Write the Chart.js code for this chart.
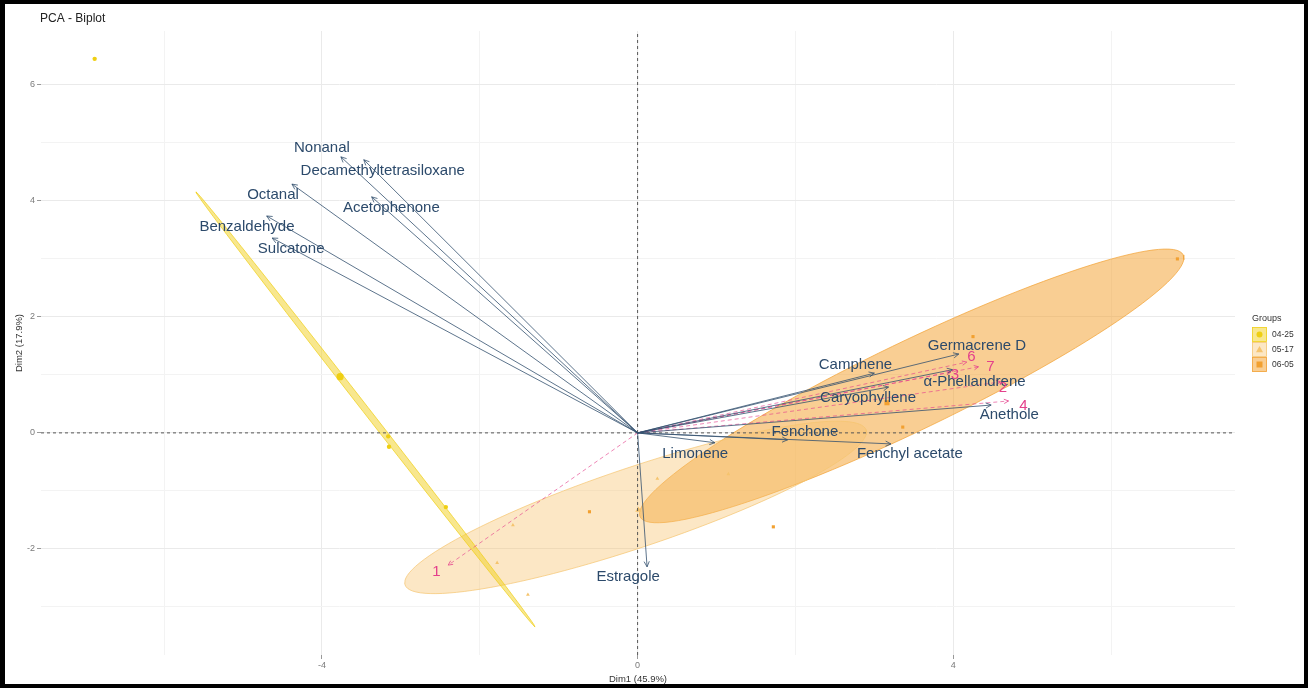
<!DOCTYPE html>
<html>
<head>
<meta charset="utf-8">
<script src="https://cdn.jsdelivr.net/npm/chart.js@4.4.1/dist/chart.umd.min.js"></script>
<style>
  body { margin: 0; background: #fff; }
  #wrap { position: relative; width: 1312px; height: 688px; }
  #c { display: block; }
  #frame { position: absolute; left: 0; top: 0; width: 1308px; height: 688px; box-sizing: border-box;
           border: 4px solid #000; border-left-width: 5px; pointer-events: none; }
</style>
</head>
<body>
<div id="wrap">
  <canvas id="c" width="1312" height="688"></canvas>
  <div id="frame"></div>
</div>
<script>
// axis ticks / limits
const xGrid = [-6, -4, -2, 0, 2, 4, 6];
const xTickLabels = [-4, 0, 4];
const yGrid = [-3, -2, -1, 0, 1, 2, 3, 4, 5, 6];
const yTickLabels = [-2, 0, 2, 4, 6];
const xLimits = [-7.56, 7.57];
const yLimits = [-3.83, 6.93];

// active variables (arrows)
const varNames = ['Nonanal', 'Decamethyltetrasiloxane', 'Octanal', 'Acetophenone', 'Benzaldehyde', 'Sulcatone',
  'Germacrene D', 'Camphene', 'α-Phellandrene', 'Caryophyllene', 'Anethole', 'Fenchone', 'Fenchyl acetate',
  'Limonene', 'Estragole'];
const varX = [-3.76, -3.47, -4.38, -3.37, -4.70, -4.63, 4.07, 3.00, 3.99, 3.18, 4.48, 1.90, 3.21, 0.98, 0.12];
const varY = [4.76, 4.71, 4.29, 4.07, 3.74, 3.36, 1.36, 1.03, 1.09, 0.79, 0.48, -0.12, -0.19, -0.17, -2.31];
const varLabelX = [-4.00, -3.23, -4.62, -3.12, -4.95, -4.39, 4.30, 2.76, 4.27, 2.92, 4.71, 2.12, 3.45, 0.73, -0.12];
const varLabelY = [4.91, 4.52, 4.10, 3.88, 3.56, 3.17, 1.50, 1.17, 0.88, 0.60, 0.31, 0.02, -0.36, -0.37, -2.49];

// supplementary variables (dashed pink arrows)
const supNames = ['1', '2', '3', '4', '6', '7'];
const supX = [-2.40, 4.60, 3.97, 4.70, 4.17, 4.32];
const supY = [-2.28, 0.88, 1.05, 0.55, 1.22, 1.14];
const supLabelX = [-2.55, 4.63, 4.02, 4.89, 4.23, 4.47];
const supLabelY = [-2.40, 0.78, 1.00, 0.47, 1.31, 1.14];

// individuals by group
const groups = ['04-25', '05-17', '06-05'];
const g1X = [-6.88, -3.16, -3.15, -2.43];
const g1Y = [6.45, -0.06, -0.24, -1.28];
const g2X = [-1.58, -1.78, -1.39, 0.25, 1.15];
const g2Y = [-1.59, -2.24, -2.79, -0.79, -0.71];
const g3X = [-0.61, 1.72, 4.25, 6.84, 3.36];
const g3Y = [-1.36, -1.62, 1.66, 3.00, 0.10];
const meanX = [-3.77, 0.01, 3.16];
const meanY = [0.97, -1.33, 0.52];

// confidence ellipses: centre, half major axis vector, half minor axis vector
const ellCx = [-3.448, -0.026, 3.473];
const ellCy = [0.405, -1.285, 0.810];
const ellUx = [2.149, 2.921, 3.441];
const ellUy = [-3.750, 1.336, 2.259];
const ellVx = [0.032, 0.162, 0.242];
const ellVy = [0.034, -0.653, -0.683];

const groupColors = ['#EFCF12', '#F5C46E', '#F2A030'];
const ellFill = ['rgba(241,208,30,0.5)', 'rgba(247,196,110,0.4)', 'rgba(243,158,40,0.5)'];
const pointStyles = ['circle', 'triangle', 'rect'];
const arrowColor = '#34506F';
const labelColor = '#2C4A6B';
const pink = '#E4408C';
const FONT = 'Liberation Sans, Arial, sans-serif';

Chart.defaults.font.family = FONT;

function ellipsePoints(i) {
  const pts = [];
  for (let k = 0; k <= 120; k++) {
    const t = (k / 120) * Math.PI * 2;
    pts.push({
      x: ellCx[i] + Math.cos(t) * ellUx[i] + Math.sin(t) * ellVx[i],
      y: ellCy[i] + Math.cos(t) * ellUy[i] + Math.sin(t) * ellVy[i]
    });
  }
  return pts;
}

const toPts = (xs, ys) => xs.map((v, i) => ({ x: v, y: ys[i] }));

const datasets = [];

// ellipses
groups.forEach((g, i) => {
  datasets.push({
    type: 'line', data: ellipsePoints(i), borderColor: groupColors[i], borderWidth: 0.7,
    backgroundColor: ellFill[i], fill: 'shape', pointRadius: 0, tension: 0, order: 50
  });
});

// individual points
[[g1X, g1Y], [g2X, g2Y], [g3X, g3Y]].forEach((g, i) => {
  datasets.push({
    type: 'scatter', data: toPts(g[0], g[1]), pointStyle: pointStyles[i], pointRadius: 2.2,
    backgroundColor: groupColors[i], borderColor: groupColors[i], borderWidth: 0, order: 45
  });
});
// group means
groups.forEach((g, i) => {
  datasets.push({
    type: 'scatter', data: [{ x: meanX[i], y: meanY[i] }], pointStyle: pointStyles[i], pointRadius: 3.6,
    backgroundColor: groupColors[i], borderColor: groupColors[i], borderWidth: 0, order: 44
  });
});

// reference lines at 0
datasets.push({ type: 'line', data: [{ x: xLimits[0], y: 0 }, { x: xLimits[1], y: 0 }], borderColor: '#555',
  borderWidth: 1, borderDash: [3, 3], pointRadius: 0, fill: false, order: 30 });
datasets.push({ type: 'line', data: [{ x: 0, y: yLimits[0] }, { x: 0, y: yLimits[1] }], borderColor: '#555',
  borderWidth: 1, borderDash: [3, 3], pointRadius: 0, fill: false, order: 30 });

// supplementary dashed arrows
supNames.forEach((n, i) => {
  datasets.push({ type: 'line', data: [{ x: 0, y: 0 }, { x: supX[i], y: supY[i] }], borderColor: 'rgba(228,64,140,0.8)',
    borderWidth: 0.8, borderDash: [4, 3], pointRadius: 0, fill: false, order: 20 });
});

// variable arrows
varNames.forEach((n, i) => {
  datasets.push({ type: 'line', data: [{ x: 0, y: 0 }, { x: varX[i], y: varY[i] }], borderColor: arrowColor,
    borderWidth: 0.8, pointRadius: 0, fill: false, order: 10 });
});

function arrowHead(ctx, ox, oy, tx, ty, len, color) {
  const a = Math.atan2(ty - oy, tx - ox);
  const s = 0.45;
  ctx.strokeStyle = color;
  ctx.lineWidth = 0.8;
  ctx.beginPath();
  ctx.moveTo(tx - len * Math.cos(a - s), ty - len * Math.sin(a - s));
  ctx.lineTo(tx, ty);
  ctx.lineTo(tx - len * Math.cos(a + s), ty - len * Math.sin(a + s));
  ctx.stroke();
}

const biplotDeco = {
  id: 'biplotDeco',
  afterDatasetsDraw(chart) {
    const { ctx, scales: { x, y } } = chart;
    const ox = x.getPixelForValue(0), oy = y.getPixelForValue(0);
    ctx.save();
    supNames.forEach((n, i) => arrowHead(ctx, ox, oy, x.getPixelForValue(supX[i]), y.getPixelForValue(supY[i]), 5, pink));
    varNames.forEach((n, i) => arrowHead(ctx, ox, oy, x.getPixelForValue(varX[i]), y.getPixelForValue(varY[i]), 6, arrowColor));

    ctx.textAlign = 'center';
    ctx.textBaseline = 'middle';
    ctx.font = '15px ' + FONT;
    ctx.fillStyle = labelColor;
    varNames.forEach((n, i) => ctx.fillText(n, x.getPixelForValue(varLabelX[i]), y.getPixelForValue(varLabelY[i])));
    ctx.fillStyle = pink;
    supNames.forEach((n, i) => ctx.fillText(n, x.getPixelForValue(supLabelX[i]), y.getPixelForValue(supLabelY[i])));
    ctx.restore();
  },
  afterDraw(chart) {
    const { ctx } = chart;
    ctx.save();
    // title
    ctx.fillStyle = '#222';
    ctx.font = '12px ' + FONT;
    ctx.textAlign = 'left';
    ctx.textBaseline = 'middle';
    ctx.fillText('PCA - Biplot', 40, 19);

    // legend
    const lx = 1252, ly = 327, box = 15;
    ctx.fillStyle = '#333';
    ctx.font = '9px ' + FONT;
    ctx.fillText('Groups', lx, 319);
    groups.forEach((g, i) => {
      const by = ly + i * box;
      ctx.fillStyle = '#fff';
      ctx.fillRect(lx, by, box, box);
      ctx.fillStyle = ellFill[i];
      ctx.fillRect(lx, by, box, box);
      ctx.strokeStyle = groupColors[i];
      ctx.lineWidth = 0.7;
      ctx.strokeRect(lx + 0.5, by + 0.5, box - 1, box - 1);
      const cx = lx + box / 2, cy = by + box / 2;
      ctx.fillStyle = groupColors[i];
      ctx.beginPath();
      if (i === 0) {
        ctx.arc(cx, cy, 3, 0, Math.PI * 2);
      } else if (i === 1) {
        ctx.moveTo(cx, cy - 3.5); ctx.lineTo(cx + 3.5, cy + 2.8); ctx.lineTo(cx - 3.5, cy + 2.8); ctx.closePath();
      } else {
        ctx.rect(cx - 3, cy - 3, 6, 6);
      }
      ctx.fill();
      ctx.fillStyle = '#333';
      ctx.font = '8.5px ' + FONT;
      ctx.fillText(g, lx + box + 5, cy);
    });
    ctx.restore();
  }
};

const gridColor = (major) => major ? '#EAEAEA' : '#F3F3F3';

new Chart(document.getElementById('c'), {
  type: 'scatter',
  data: { datasets: datasets },
  options: {
    responsive: false,
    animation: false,
    events: [],
    layout: { padding: { left: 0, right: 77, top: 31, bottom: 0 } },
    plugins: { legend: { display: false }, tooltip: { enabled: false }, title: { display: false } },
    scales: {
      x: {
        type: 'linear', min: xLimits[0], max: xLimits[1],
        afterBuildTicks: (s) => { s.ticks = xGrid.map(v => ({ value: v })); },
        afterFit: (s) => { s.height = 33; },
        border: { display: false },
        grid: {
          color: (c) => gridColor(xTickLabels.includes(c.tick.value)),
          lineWidth: 1, tickLength: 4,
          tickColor: (c) => xTickLabels.includes(c.tick.value) ? '#999' : 'rgba(0,0,0,0)'
        },
        ticks: {
          autoSkip: false, maxRotation: 0, padding: 1, color: '#7a7a7a', font: { size: 9 },
          callback: (v) => xTickLabels.includes(v) ? String(v) : ''
        },
        title: { display: true, text: 'Dim1 (45.9%)', color: '#333', font: { size: 9.5 }, padding: { top: 0, bottom: 3 } }
      },
      y: {
        type: 'linear', min: yLimits[0], max: yLimits[1],
        afterBuildTicks: (s) => { s.ticks = yGrid.map(v => ({ value: v })); },
        afterFit: (s) => { s.width = 41; },
        border: { display: false },
        grid: {
          color: (c) => gridColor(yTickLabels.includes(c.tick.value)),
          lineWidth: 1, tickLength: 4,
          tickColor: (c) => yTickLabels.includes(c.tick.value) ? '#999' : 'rgba(0,0,0,0)'
        },
        ticks: {
          autoSkip: false, padding: 2, color: '#7a7a7a', font: { size: 9 },
          callback: (v) => yTickLabels.includes(v) ? String(v) : ''
        },
        title: { display: true, text: 'Dim2 (17.9%)', color: '#333', font: { size: 9.5 }, padding: { top: 14, bottom: 0 } }
      }
    }
  },
  plugins: [biplotDeco]
});
</script>
</body>
</html>
